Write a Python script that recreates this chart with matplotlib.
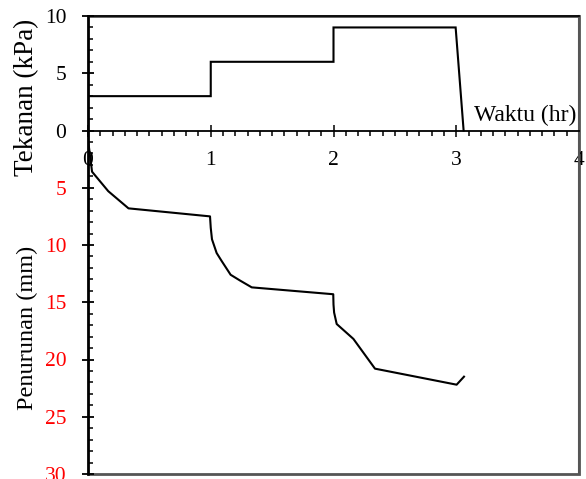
import matplotlib
matplotlib.use("Agg")
import matplotlib.pyplot as plt
from matplotlib.patches import Rectangle
from matplotlib.ticker import MultipleLocator, FixedLocator

plt.rcParams['font.family'] = ['Liberation Serif', 'DejaVu Serif']

# Pressure (kPa) vs time (hr)
p_time = [0, 1.0, 1.0, 2.0, 2.0, 2.995, 3.06]
p_kpa = [3, 3, 6, 6, 9, 9, 0]

# Settlement (mm) vs time (hr)
s_time = [0, 0.02, 0.033, 0.165, 0.33, 0.994, 1.0, 1.01, 1.048, 1.089, 1.162, 1.238, 1.334, 1.998, 2.0, 2.005, 2.026, 2.162, 2.338, 3.003, 3.063]
s_mm = [0.8, 2.5, 3.6, 5.3, 6.8, 7.5, 8.5, 9.5, 10.7, 11.4, 12.6, 13.1, 13.7, 14.3, 15.2, 15.9, 16.9, 18.2, 20.8, 22.2, 21.5]

x_ticks = [0, 1, 2, 3, 4]
y_ticks = [-30, -25, -20, -15, -10, -5, 0, 5, 10]
y_ticklabels = ['30', '25', '20', '15', '10', '5', '0', '5', '10']

W, H = 586, 479
fig = plt.figure(figsize=(W / 100, H / 100), dpi=100)
ax = fig.add_axes([88 / W, 1 - 474 / H, (579 - 88) / W, (474 - 16) / H])

ax.plot(p_time, p_kpa, color='black', lw=1.5, solid_joinstyle='miter')
ax.plot(s_time, [-v for v in s_mm], color='black', lw=1.5)

ax.set_xlim(0, 4)
ax.set_ylim(-30, 10)

# x-axis at y=0
ax.spines['bottom'].set_position(('data', 0))
ax.spines['bottom'].set_linewidth(1.3)
ax.spines['left'].set_linewidth(1.8)
ax.spines['top'].set_linewidth(1.2)
ax.spines['right'].set_linewidth(1.5)
ax.spines['right'].set_color('#555555')
ax.add_patch(Rectangle((0, 0), 1, 1, transform=ax.transAxes, fill=False,
                       edgecolor='#555555', lw=2.0, clip_on=False, zorder=0))

ax.xaxis.set_major_locator(FixedLocator(x_ticks))
ax.xaxis.set_minor_locator(MultipleLocator(0.1))
ax.set_xticklabels([str(v) for v in x_ticks])
ax.tick_params(axis='x', which='major', direction='inout', length=9, width=1.1,
               pad=10.5, labelsize=15.5)
ax.tick_params(axis='x', which='minor', direction='out', length=3.6, width=1.1)

ax.yaxis.set_major_locator(FixedLocator(y_ticks))
ax.yaxis.set_minor_locator(MultipleLocator(1))
ax.set_yticklabels(y_ticklabels)
ax.tick_params(axis='y', which='major', direction='inout', length=9, width=1.3,
               pad=11, labelsize=15.5)
ax.tick_params(axis='y', which='minor', direction='in', length=3.6, width=1.1)
for lab, v in zip(ax.get_yticklabels(), y_ticks):
    lab.set_color('red' if v < 0 else 'black')

ax.text(3.98, 1.3, 'Waktu (hr)', ha='right', va='center', fontsize=17)

fig.text(27 / W, 1 - 97.5 / H, 'Tekanan (kPa)', rotation=90, ha='center', va='center', fontsize=19.5)
fig.text(27 / W, 1 - 328 / H, 'Penurunan (mm)', rotation=90, ha='center', va='center', fontsize=17.5)

fig.savefig('out.png', dpi=100)
